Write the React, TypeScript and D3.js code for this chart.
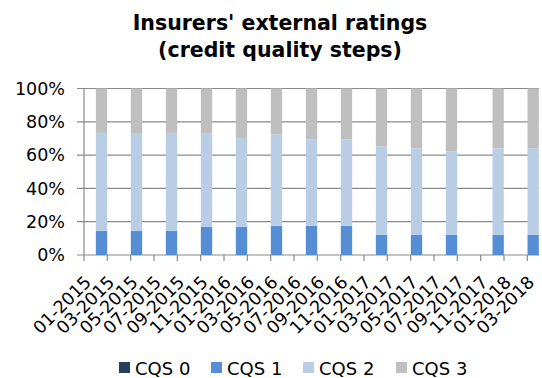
import React from "react";
import * as d3 from "d3";

// Observation months (quarterly reporting, one late quarter in 2017)
const dates = [
  "02-2015", "05-2015", "08-2015", "11-2015",
  "02-2016", "05-2016", "08-2016", "11-2016",
  "02-2017", "05-2017", "08-2017", "12-2017", "03-2018",
];

// Share of insurers per credit quality step, in %
const cqs0 = [0, 0, 0, 0, 0, 0, 0, 0, 0, 0, 0, 0, 0];
const cqs1 = [14.4, 14.4, 14.4, 17.0, 17.0, 17.6, 17.6, 17.6, 12.2, 12.2, 12.2, 12.2, 12.2];
const cqs2 = [58.9, 58.9, 58.9, 56.3, 53.3, 54.9, 51.9, 51.9, 53.1, 51.9, 50.1, 51.9, 51.9];
const cqs3 = [26.7, 26.7, 26.7, 26.7, 29.7, 27.5, 30.5, 30.5, 34.7, 35.9, 37.7, 35.9, 35.9];

const seriesNames = ["CQS 0", "CQS 1", "CQS 2", "CQS 3"];
const seriesColors = ["#243F60", "#558ED5", "#B9CDE5", "#BFBFBF"];
const yTicks = [0, 20, 40, 60, 80, 100];

// Monthly date axis from 01-2015 to 03-2018, labelled every second month
const fmt = d3.timeFormat("%m-%Y");
const axisMonths = d3.timeMonth
  .range(new Date(2015, 0, 1), new Date(2018, 3, 1))
  .map((d) => fmt(d));

const W = 542;
const H = 378;
const FONT = "'DejaVu Sans', Verdana, sans-serif";

export default function App() {
  const left = 84;
  const right = 539;
  const top = 88.5;
  const bottom = 255;

  const x = d3.scaleBand<string>().domain(axisMonths).range([left, right]).paddingInner(0.03).paddingOuter(0.015);
  const slot = (right - left) / axisMonths.length;
  const y = d3.scaleLinear().domain([0, 100]).range([bottom, top]);

  const rows = dates.map((d, i) => ({
    date: d,
    "CQS 0": cqs0[i],
    "CQS 1": cqs1[i],
    "CQS 2": cqs2[i],
    "CQS 3": cqs3[i],
  }));
  const stacked = d3.stack<any>().keys(seriesNames)(rows);

  const tickXs = d3.range(0, axisMonths.length + 1, 2).map((k) => left + k * slot);
  const labelMonths = axisMonths.filter((_, i) => i % 2 === 0);

  const legendX = [119, 211, 303, 396];

  return (
    <svg
      width={W}
      height={H}
      style={{ position: "absolute", left: 0, top: 0, background: "#fff" }}
      fontFamily={FONT}
    >
      <text x={280} y={30} textAnchor="middle" fontSize={20.5} fontWeight="bold" fill="#000">
        Insurers' external ratings
      </text>
      <text x={280} y={57} textAnchor="middle" fontSize={20.5} fontWeight="bold" fill="#000">
        (credit quality steps)
      </text>

      {/* gridlines and y axis */}
      {yTicks.map((t) => (
        <g key={t}>
          <line x1={left - 7} x2={right} y1={y(t)} y2={y(t)} stroke="#8a8a8a" strokeWidth={1.2} />
          <text x={65} y={y(t)} dy="0.36em" textAnchor="end" fontSize={17.5} fill="#000">
            {t}%
          </text>
        </g>
      ))}
      <line x1={left} x2={left} y1={top} y2={bottom} stroke="#8a8a8a" strokeWidth={1.2} />

      {/* bars */}
      {stacked.map((s, si) => (
        <g key={s.key} fill={seriesColors[si]}>
          {s.map((d, i) => (
            <rect
              key={i}
              x={x(d.data.date)}
              width={x.bandwidth()}
              y={y(d[1])}
              height={Math.max(0, y(d[0]) - y(d[1]))}
            />
          ))}
        </g>
      ))}

      {/* x axis ticks */}
      {tickXs.map((tx, i) => (
        <line key={i} x1={tx} x2={tx} y1={bottom} y2={bottom + 6} stroke="#8a8a8a" strokeWidth={1.2} />
      ))}
      {labelMonths.map((m) => {
        const cx = (x(m) as number) + x.bandwidth() / 2;
        return (
          <text
            key={m}
            transform={`translate(${cx - 2},${bottom + 24}) rotate(-45)`}
            textAnchor="end"
            dy="0.35em"
            fontSize={17.5}
            fill="#000"
          >
            {m}
          </text>
        );
      })}

      {/* legend */}
      {seriesNames.map((n, i) => (
        <g key={n}>
          <rect x={legendX[i]} y={362} width={11} height={11} fill={seriesColors[i]} />
          <text x={legendX[i] + 16} y={375} fontSize={18} fill="#000">
            {n}
          </text>
        </g>
      ))}
    </svg>
  );
}
